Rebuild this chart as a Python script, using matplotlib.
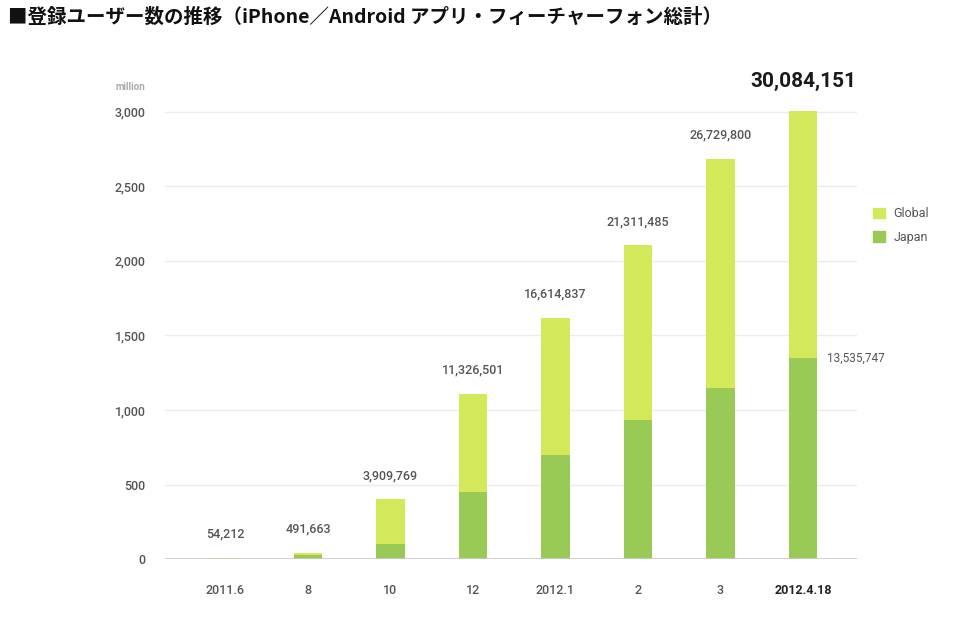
import matplotlib
matplotlib.use("Agg")
import matplotlib.pyplot as plt
from matplotlib.patches import Patch

plt.rcParams['font.family'] = ['Roboto', 'Noto Sans CJK JP', 'DejaVu Sans']

# values in units of 10,000 users
months = ["2011.6", "8", "10", "12", "2012.1", "2", "3", "2012.4.18"]
japan = [5, 27, 100, 452, 698, 934, 1145, 1350]
totals = [9, 44, 402, 1111, 1620, 2106, 2686, 3008]
global_users = [t - j for t, j in zip(totals, japan)]
total_labels = ["54,212", "491,663", "3,909,769", "11,326,501", "16,614,837",
                "21,311,485", "26,729,800", "30,084,151"]
japan_last_label = "13,535,747"
yticks = [0, 500, 1000, 1500, 2000, 2500, 3000]

c_japan = "#98ca55"
c_global = "#d3e95a"
c_text = "#555555"

fig = plt.figure(figsize=(9.6, 6.18), dpi=100)
ax = fig.add_axes([0.1719, 0.0950, 0.7208, 0.7484])

x = list(range(len(months)))
ax.bar(x, japan, width=0.35, color=c_japan, zorder=3)
ax.bar(x, global_users, width=0.35, bottom=japan, color=c_global, zorder=3)

ax.set_xlim(-0.733, 7.655)
ax.set_ylim(0, 3100)
ax.set_yticks(yticks)
ax.set_yticklabels([f"{v:,}" for v in yticks])
ax.grid(axis="y", color="#ececec", linewidth=1, zorder=0)
ax.axhline(0, color="#c8c8c8", linewidth=1.2, zorder=4)
for s in ax.spines.values():
    s.set_visible(False)
ax.tick_params(axis="y", length=0, pad=14, labelsize=9, labelcolor=c_text)
ax.tick_params(axis="x", length=0, pad=18, labelsize=9, labelcolor=c_text)
ax.set_xticks(x)
ax.set_xticklabels(months)
for lab in ax.get_yticklabels():
    lab.set_fontweight("medium")
for lab in ax.get_xticklabels():
    lab.set_fontweight("medium")
last = ax.get_xticklabels()[-1]
last.set_fontweight("bold")
last.set_color("#222222")

for i, (t, lab) in enumerate(zip(totals, total_labels)):
    if i == len(totals) - 1:
        ax.annotate(lab, (i, t), xytext=(0, 21), textcoords="offset points",
                    ha="center", va="center", fontsize=15, fontweight="bold",
                    color="#1a1a1a")
    else:
        ax.annotate(lab, (i, t), xytext=(0, 17), textcoords="offset points",
                    ha="center", va="center", fontsize=9, fontweight="medium",
                    color=c_text)

ax.annotate(japan_last_label, (len(months) - 1, japan[-1]), xytext=(17, 0),
            textcoords="offset points", ha="left", va="center", fontsize=8.5,
            color=c_text)

fig.text(115 / 960, 1 - 87 / 618, "million", fontsize=7, color="#aaaaaa",
         fontweight="bold", va="center", ha="left")

handles = [Patch(color=c_global, label="Global"), Patch(color=c_japan, label="Japan")]
fig.legend(handles=handles, loc="upper left", bbox_to_anchor=(862 / 960, 1 - 196 / 618),
           frameon=False, fontsize=9, handlelength=0.9, handleheight=0.9,
           handletextpad=0.7, labelspacing=0.85, labelcolor=c_text)

fig.text(8 / 960, 1 - 17 / 618,
         "■登録ユーザー数の推移（iPhone／Android アプリ・フィーチャーフォン総計）",
         fontsize=14, fontweight="bold", color="#111111", va="center", ha="left",
         family=["Noto Sans CJK JP", "DejaVu Sans"])

fig.savefig("out.png", dpi=100, facecolor="white")
